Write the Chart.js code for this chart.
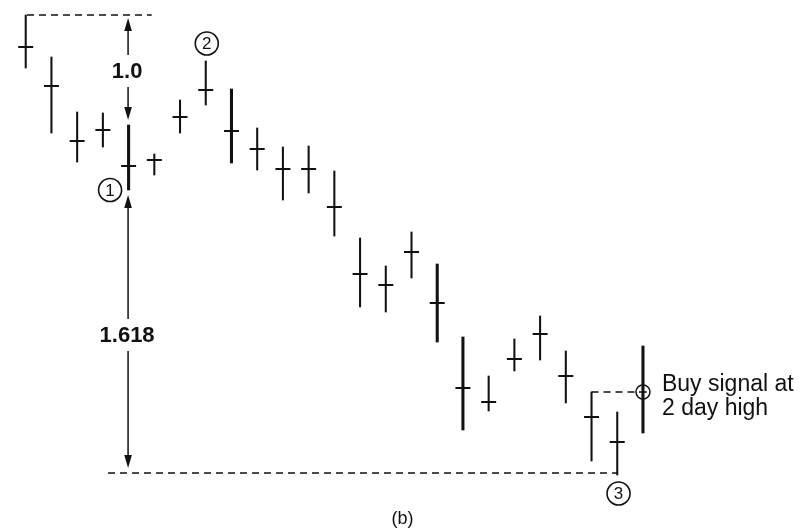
<!DOCTYPE html>
<html>
<head>
<meta charset="utf-8">
<script src="https://cdn.jsdelivr.net/npm/chart.js@4.4.1/dist/chart.umd.min.js"></script>
<style>
  html, body { margin: 0; padding: 0; background: #fff; }
  #wrap { width: 805px; height: 531px; }
</style>
</head>
<body>
<div id="wrap"><canvas id="chart"></canvas></div>
<script>
// Daily bars (price in arbitrary units)
const days   = [1, 2, 3, 4, 5, 6, 7, 8, 9, 10, 11, 12, 13, 14, 15, 16, 17, 18, 19, 20, 21, 22, 23, 24, 25];
const highs  = [51.6, 47.4, 41.9, 41.8, 40.6, 37.7, 43.1, 47.0, 44.2, 40.3, 38.4, 38.5, 36.0, 29.3, 26.5, 29.9, 26.7, 19.4, 15.5, 19.2, 21.5, 18.0, 13.9, 11.9, 18.5];
const lows   = [46.3, 39.8, 36.9, 38.4, 34.1, 35.6, 39.8, 42.6, 36.8, 36.1, 33.1, 33.8, 29.5, 22.4, 21.9, 25.3, 18.9, 10.1, 12.0, 16.0, 17.1, 12.8, 7.0, 5.6, 9.8];
const closes = [48.4, 44.5, 39.0, 40.1, 36.5, 37.1, 41.4, 44.1, 40.0, 38.2, 36.2, 36.2, 32.4, 25.7, 24.6, 27.9, 22.8, 14.3, 12.9, 17.2, 19.7, 15.5, 11.4, 8.9, null];
const heavyDays = [5, 9, 17, 18, 25];

// Reference levels
const swingTop    = 51.6;   // start of the move
const swingLow1   = 41.1;   // point 1 top of the 1.0 leg
const swingLow1b  = 33.6;   // point 1 start of the 1.618 leg
const target      = 6.3;    // 1.618 projection
const targetLine  = 5.8;
const buyLevel    = 13.9;   // 2 day high
const buyDay      = 25;

const topDash    = [{ x: 1.05, y: swingTop }, { x: 5.9, y: swingTop }];
const bottomDash = [{ x: 4.2, y: targetLine }, { x: 24, y: targetLine }];
const buyDash    = [{ x: 23, y: buyLevel }, { x: 24.75, y: buyLevel }];

const markers = [
  { label: '1', x: 4.28, y: 34.1 },
  { label: '2', x: 8.04, y: 48.75 },
  { label: '3', x: 24.05, y: 3.75 }
];

const FONT = '"Liberation Sans", Arial, sans-serif';
const INK = '#111';

function barData(heavy) {
  return days.map((d, i) => {
    const isHeavy = heavyDays.includes(d);
    return { x: d, y: (isHeavy === heavy) ? [lows[i], highs[i]] : null };
  });
}

function arrowHead(ctx, x, y, dir) {
  // dir = -1 points up, 1 points down; (x, y) is the tip
  ctx.beginPath();
  ctx.moveTo(x, y);
  ctx.lineTo(x - 3.8, y - dir * 13);
  ctx.lineTo(x + 3.8, y - dir * 13);
  ctx.closePath();
  ctx.fill();
}

function measureArrow(ctx, x, yTop, yBottom, label, yLabel, font) {
  ctx.save();
  ctx.strokeStyle = INK;
  ctx.fillStyle = INK;
  ctx.lineWidth = 1.5;
  ctx.font = font;
  ctx.textAlign = 'center';
  ctx.textBaseline = 'middle';
  const gap = 16;
  ctx.beginPath();
  ctx.moveTo(x, yTop + 6);
  ctx.lineTo(x, yLabel - gap);
  ctx.moveTo(x, yLabel + gap);
  ctx.lineTo(x, yBottom - 6);
  ctx.stroke();
  arrowHead(ctx, x, yTop, -1);
  arrowHead(ctx, x, yBottom, 1);
  ctx.fillText(label, x - 1, yLabel + 1);
  ctx.restore();
}

const notes = {
  id: 'notes',
  afterDatasetsDraw(chart) {
    const { ctx, scales: { x, y } } = chart;
    const ax = x.getPixelForValue(4.98);

    measureArrow(ctx, ax, y.getPixelForValue(swingTop) + 3, y.getPixelForValue(swingLow1),
      '1.0', y.getPixelForValue(46.0), 'bold 22px ' + FONT);
    measureArrow(ctx, ax, y.getPixelForValue(swingLow1b), y.getPixelForValue(target),
      '1.618', y.getPixelForValue(19.6), 'bold 22px ' + FONT);

    // circled swing markers
    ctx.save();
    ctx.strokeStyle = INK;
    ctx.fillStyle = INK;
    ctx.lineWidth = 1.6;
    ctx.font = '17px ' + FONT;
    ctx.textAlign = 'center';
    ctx.textBaseline = 'middle';
    markers.forEach(m => {
      const px = x.getPixelForValue(m.x);
      const py = y.getPixelForValue(m.y);
      ctx.beginPath();
      ctx.arc(px, py, 11.5, 0, Math.PI * 2);
      ctx.stroke();
      ctx.fillText(m.label, px, py + 1);
    });

    // buy signal circle
    const bx = x.getPixelForValue(buyDay);
    const by = y.getPixelForValue(buyLevel);
    ctx.lineWidth = 1.5;
    ctx.beginPath();
    ctx.arc(bx, by, 7, 0, Math.PI * 2);
    ctx.stroke();
    ctx.beginPath();
    ctx.moveTo(bx - 4, by);
    ctx.lineTo(bx + 4, by);
    ctx.stroke();

    ctx.textAlign = 'left';
    ctx.textBaseline = 'alphabetic';
    ctx.font = '23px ' + FONT;
    ctx.fillText('Buy signal at', bx + 19, by - 1);
    ctx.fillText('2 day high', bx + 19, by + 23);

    ctx.textAlign = 'center';
    ctx.font = '18px ' + FONT;
    ctx.fillText('(b)', x.getPixelForValue(15.65), chart.height - 7);
    ctx.restore();
  }
};

const dashed = (data) => ({
  type: 'line',
  data: data,
  borderColor: INK,
  borderWidth: 1.5,
  borderDash: [7, 5],
  pointRadius: 0,
  fill: false
});

new Chart(document.getElementById('chart'), {
  type: 'bar',
  data: {
    datasets: [
      { data: barData(false), backgroundColor: INK, barThickness: 1.4, grouped: false },
      { data: barData(true), backgroundColor: INK, barThickness: 2.4, grouped: false },
      {
        type: 'scatter',
        data: days.map((d, i) => ({ x: d, y: closes[i] })),
        pointStyle: 'line',
        pointRadius: 7.5,
        borderWidth: 2,
        borderColor: INK
      },
      dashed(topDash),
      dashed(bottomDash),
      dashed(buyDash)
    ]
  },
  options: {
    responsive: true,
    maintainAspectRatio: false,
    animation: false,
    layout: { padding: 0, autoPadding: false },
    plugins: { legend: { display: false }, tooltip: { enabled: false } },
    scales: {
      x: { type: 'linear', min: 0, max: 31.3, offset: false, display: false },
      y: { type: 'linear', min: 0, max: 53.1, display: false }
    }
  },
  plugins: [notes]
});
</script>
</body>
</html>
